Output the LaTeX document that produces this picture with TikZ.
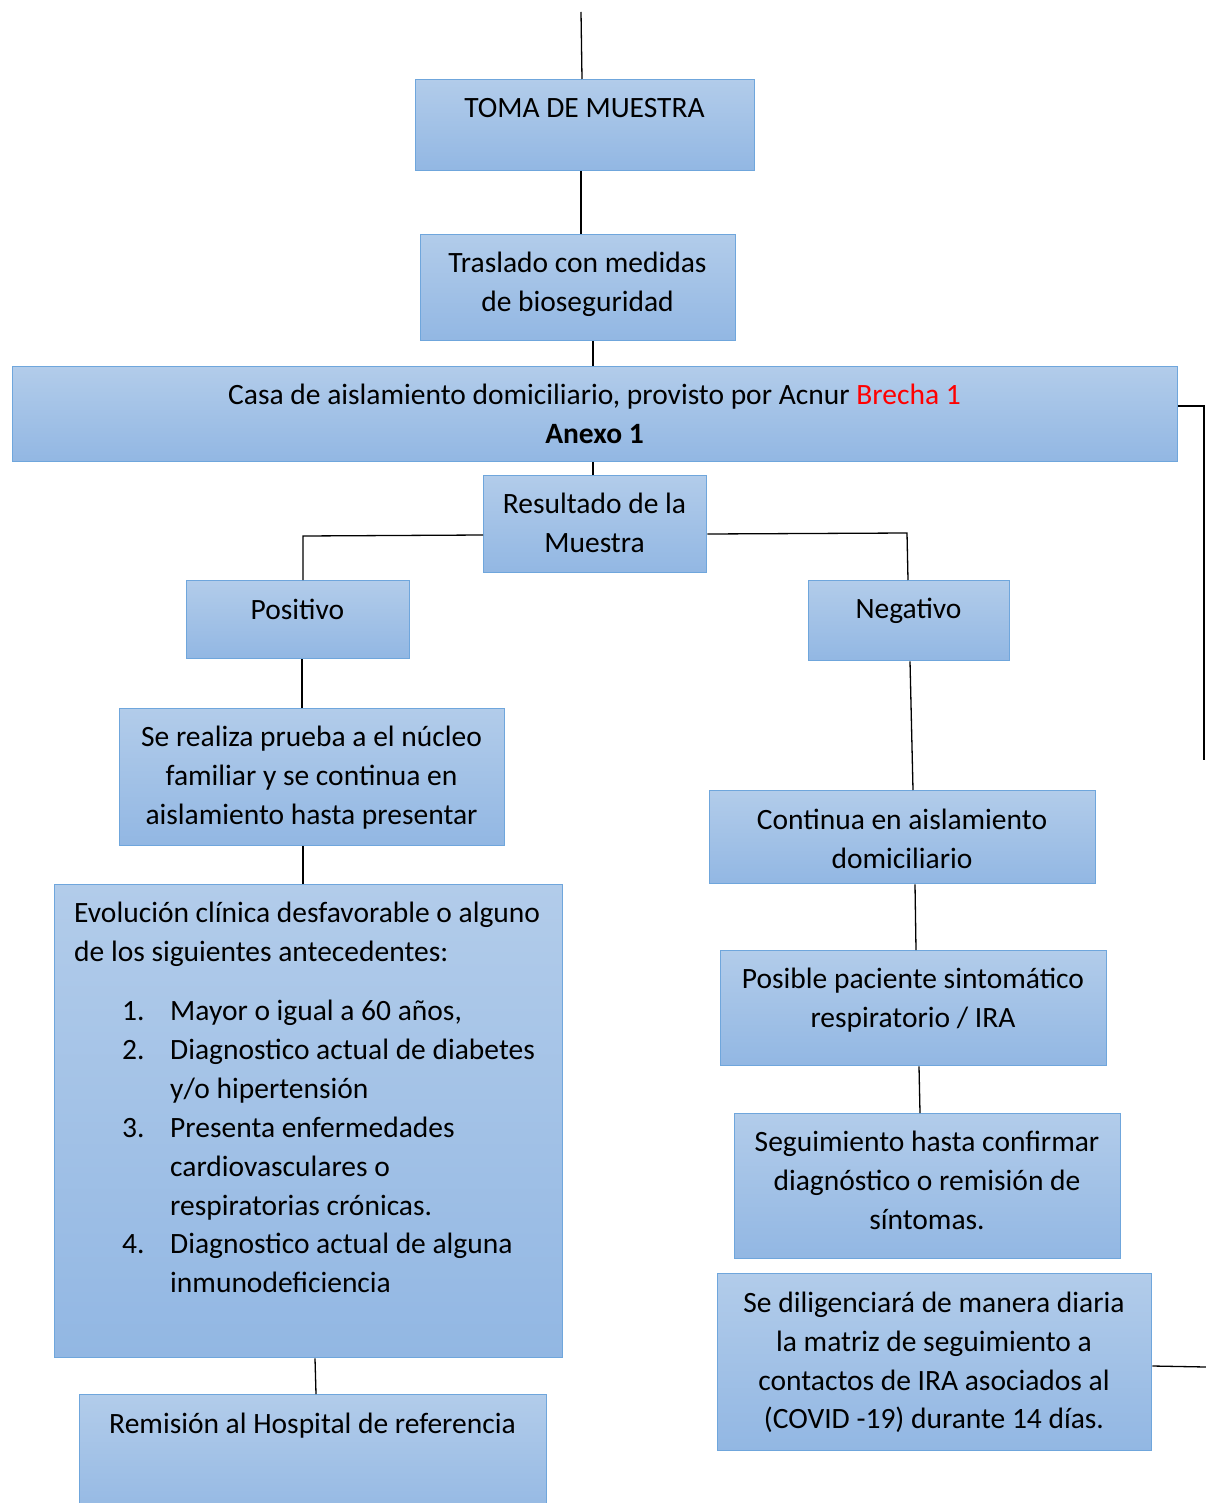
\documentclass[tikz,border=0pt]{standalone}
\usepackage{fontspec}
\setmainfont{Carlito}
\definecolor{boxtop}{HTML}{B2CCEA}
\definecolor{boxbot}{HTML}{92B7E3}
\definecolor{boxedge}{HTML}{6FA6DC}
\definecolor{brecha}{HTML}{FF0000}
\newcommand\diafont{\fontsize{29.5}{38.7}\selectfont}
\tikzset{
  box/.style={draw=boxedge, line width=1.4pt, top color=boxtop, bottom color=boxbot,
    inner sep=0pt, anchor=north west, shape=rectangle},
  txt/.style={anchor=north, inner sep=0pt, align=flush center, font=\diafont,
    execute at begin node=\strut},
  ltxt/.style={anchor=north west, inner sep=0pt, align=flush left, font=\diafont,
    text width=380, execute at begin node=\strut},
  conn/.style={draw=black, line width=1.3pt},
}
\begin{document}
\begin{tikzpicture}[x=1pt,y=-1pt]
\useasboundingbox (0,0) rectangle (1206,1503);
% boxes
\node[box, minimum width=339, minimum height=91] (toma) at (415,79) {};
\node[box, minimum width=315, minimum height=106] (tras) at (420,234) {};
\node[box, minimum width=1165, minimum height=95] (casa) at (12,366) {};
\node[box, minimum width=223, minimum height=97] (res) at (483,475) {};
\node[box, minimum width=223, minimum height=78] (pos) at (186,580) {};
\node[box, minimum width=201, minimum height=80] (neg) at (808,580) {};
\node[box, minimum width=385, minimum height=137] (real) at (119,708) {};
\node[box, minimum width=386, minimum height=93] (cont) at (709,790) {};
\node[box, minimum width=508, minimum height=473] (evo) at (54,884) {};
\node[box, minimum width=386, minimum height=115] (posi) at (720,950) {};
\node[box, minimum width=386, minimum height=145] (seg) at (734,1113) {};
\node[box, minimum width=434, minimum height=177] (dil) at (717,1273) {};
\node[box, minimum width=467, minimum height=130] (rem) at (79,1394) {};
% texts
\node[txt, text width=339] (tomat) at (584.5,90.4) {TOMA DE MUESTRA};
\node[txt, text width=315] (trast) at (577.5,245.4) {Traslado con medidas\\de bioseguridad};
\node[txt, text width=1165] (casat) at (594.5,377.4) {Casa de aislamiento domiciliario, provisto por Acnur \textcolor{brecha}{Brecha 1}\\\textbf{Anexo 1}};
\node[txt, text width=223] (rest) at (594.5,486.4) {Resultado de la\\Muestra};
\node[txt, text width=223] (post) at (297.5,592.4) {Positivo};
\node[txt, text width=201] (negt) at (908.5,591.4) {Negativo};
\node[txt, text width=385] (realt) at (311.5,719.4) {Se realiza prueba a el núcleo\\familiar y se continua en\\aislamiento hasta presentar};
\node[txt, text width=386] (contt) at (902,802.4) {Continua en aislamiento\\domiciliario};
\node[ltxt, text width=490] (evot) at (74,895.4) {Evolución clínica desfavorable o alguno\\de los siguientes antecedentes:};
\node[ltxt, text width=40] (n1) at (122,993.4) {1.};
\node[ltxt] (i1) at (170,993.4) {Mayor o igual a 60 años,};
\node[ltxt, text width=40] (n2) at (122,1032.4) {2.};
\node[ltxt] (i2) at (170,1032.4) {Diagnostico actual de diabetes\\y/o hipertensión};
\node[ltxt, text width=40] (n3) at (122,1110.4) {3.};
\node[ltxt] (i3) at (170,1110.4) {Presenta enfermedades\\cardiovasculares o\\respiratorias crónicas.};
\node[ltxt, text width=40] (n4) at (122,1226.4) {4.};
\node[ltxt] (i4) at (170,1226.4) {Diagnostico actual de alguna\\inmunodeficiencia};
\node[txt, text width=386] (posit) at (913,961.4) {Posible paciente sintomático\\respiratorio / IRA};
\node[txt, text width=386] (segt) at (927,1124.4) {Seguimiento hasta confirmar\\diagnóstico o remisión de\\síntomas.};
\node[txt, text width=434] (dilt) at (934,1285.4) {Se diligenciará de manera diaria\\la matriz de seguimiento a\\contactos de IRA asociados al\\(COVID -19) durante 14 días.};
\node[txt, text width=467] (remt) at (312.5,1406.4) {Remisión al Hospital de referencia};
% connectors
\coordinate (topend) at (581,12);
\coordinate (rightend) at (1204,760);
\coordinate (dilend) at (1206,1367);
\draw[conn] (topend) -- (582,0 |- toma.north);
\draw[conn] (581,0 |- toma.south) -- (581,0 |- tras.north);
\draw[conn] (593,0 |- tras.south) -- (593,0 |- casa.north);
\draw[conn] (593,0 |- casa.south) -- (593,0 |- res.north);
\draw[conn] (res.west |- 0,535) -- (303,536) -- (303,0 |- pos.north);
\draw[conn] (res.east |- 0,534) -- (907,533) -- (908,0 |- neg.north);
\draw[conn] (302,0 |- pos.south) -- (302,0 |- real.north);
\draw[conn] (303,0 |- real.south) -- (303,0 |- evo.north);
\draw[conn] (315,0 |- evo.south) -- (316,0 |- rem.north);
\draw[conn] (910,0 |- neg.south) -- (913,0 |- cont.north);
\draw[conn] (915,0 |- cont.south) -- (916,0 |- posi.north);
\draw[conn] (919,0 |- posi.south) -- (920,0 |- seg.north);
\draw[conn] (casa.east |- 0,406) -- (1204,406) -- (rightend);
\draw[conn] (dil.east |- 0,1366) -- (dilend);
\end{tikzpicture}
\end{document}
